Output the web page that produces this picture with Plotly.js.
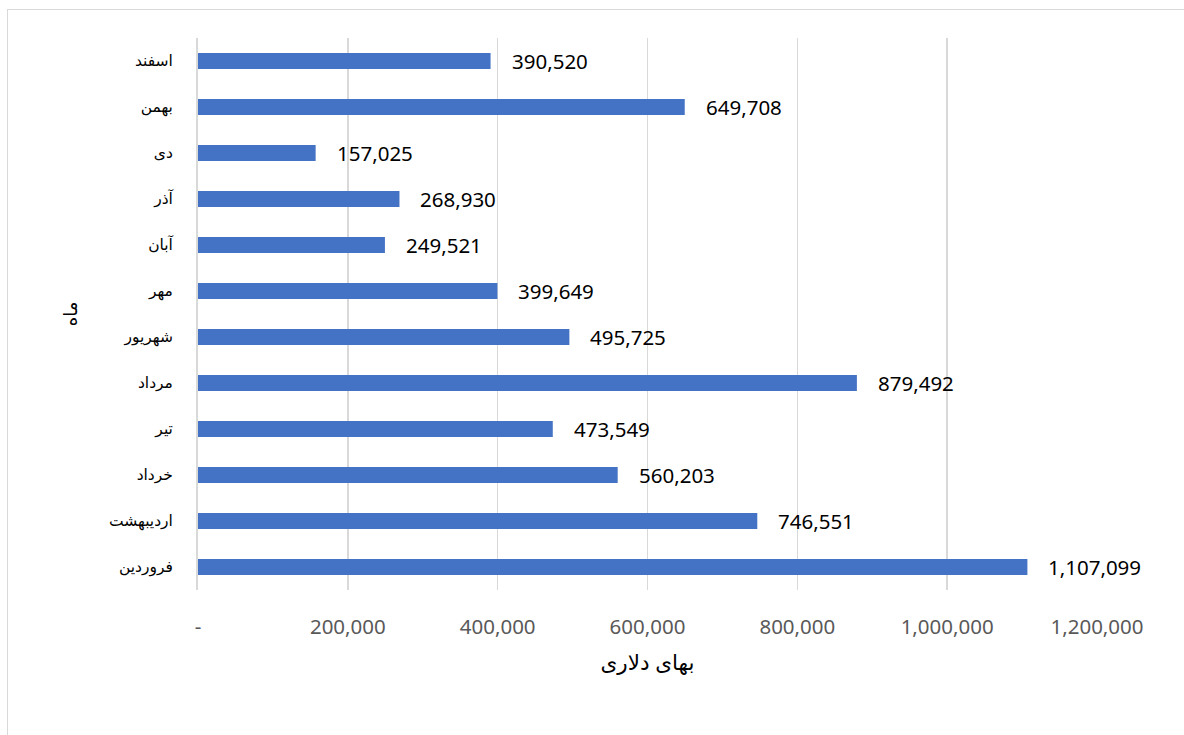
<!DOCTYPE html>
<html>
<head>
<meta charset="utf-8">
<script src="https://cdn.plot.ly/plotly-3.0.1.min.js"></script>
<style>
  html, body { margin: 0; padding: 0; background: #ffffff; overflow: hidden; }
  #frame { position: absolute; left: 7px; top: 9px; width: 1300px; height: 900px; border: 1px solid #d9d9d9; box-sizing: border-box; }
  #chart { position: absolute; left: 0; top: 0; width: 1184px; height: 735px; }
</style>
</head>
<body>
<div id="frame"></div>
<div id="chart"></div>
<script>
const months = ['فروردین', 'اردیبهشت', 'خرداد', 'تیر', 'مرداد', 'شهریور', 'مهر', 'آبان', 'آذر', 'دی', 'بهمن', 'اسفند'];
const values = [1107099, 746551, 560203, 473549, 879492, 495725, 399649, 249521, 268930, 157025, 649708, 390520];
const tickVals = [0, 200000, 400000, 600000, 800000, 1000000, 1200000];
const tickText = ['-', '200,000', '400,000', '600,000', '800,000', '1,000,000', '1,200,000'];
const xTitle = 'بهای دلاری';
const yTitle = 'ماه';

const fontFam = 'Noto Sans, DejaVu Sans, sans-serif';
const fmt = v => v.toLocaleString('en-US');

const trace = {
  type: 'bar',
  orientation: 'h',
  x: values,
  y: months,
  width: 0.35,
  marker: { color: '#4472C4', line: { width: 0 } },
  hoverinfo: 'none'
};

const annotations = values.map((v, i) => ({
  x: v, y: months[i], xref: 'x', yref: 'y',
  text: fmt(v), showarrow: false, xanchor: 'left', xshift: 19,
  font: { family: fontFam, size: 20.5, color: '#000000' }
}));

const layout = {
  width: 1184, height: 735,
  margin: { l: 198, r: 87, t: 38, b: 145 },
  paper_bgcolor: 'rgba(0,0,0,0)',
  plot_bgcolor: 'rgba(0,0,0,0)',
  showlegend: false,
  bargap: 0.65,
  xaxis: {
    range: [0, 1200000],
    tickvals: tickVals, ticktext: tickText,
    showgrid: true, gridcolor: '#d9d9d9', gridwidth: 1.5,
    zeroline: false, showline: false,
    ticks: 'outside', ticklen: 18, tickcolor: 'rgba(0,0,0,0)',
    tickfont: { family: fontFam, size: 20.5, color: '#595959' },
    title: { text: xTitle, standoff: 16, font: { family: fontFam, size: 21.5, color: '#000000' } },
    fixedrange: true
  },
  yaxis: {
    type: 'category',
    categoryorder: 'array', categoryarray: months,
    range: [-0.5, 11.5],
    showgrid: false, zeroline: false,
    showline: true, linecolor: '#d9d9d9', linewidth: 2,
    ticks: 'outside', ticklen: 20, tickcolor: 'rgba(0,0,0,0)',
    tickfont: { family: fontFam, size: 15.5, color: '#000000' },
    title: { text: yTitle, standoff: 27, font: { family: fontFam, size: 18, color: '#000000' } },
    fixedrange: true
  },
  annotations: annotations
};

Plotly.newPlot('chart', [trace], layout, { displayModeBar: false, staticPlot: true });
</script>
</body>
</html>
